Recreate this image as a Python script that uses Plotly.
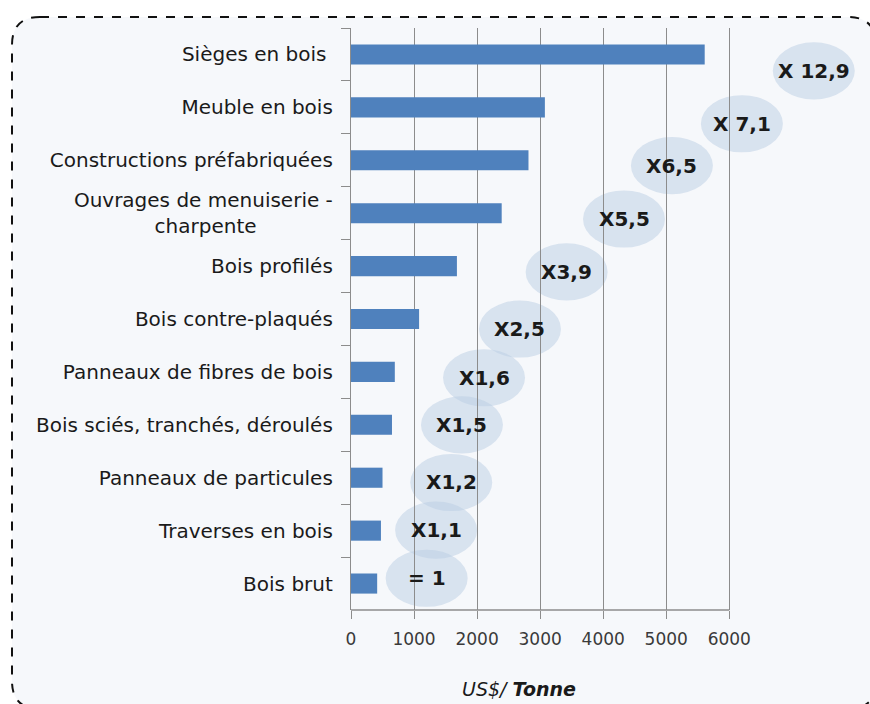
import plotly.graph_objects as go

# valeur moyenne des produits bois (US$/tonne)
produits = [
    "Sièges en bois\u00a0",
    "Meuble en bois",
    "Constructions préfabriquées",
    "Ouvrages de menuiserie -<br>charpente" + "\u00a0" * 12,
    "Bois profilés",
    "Bois contre-plaqués",
    "Panneaux de fibres de bois",
    "Bois sciés, tranchés, déroulés",
    "Panneaux de particules",
    "Traverses en bois",
    "Bois brut",
]
prix = [5610, 3075, 2815, 2390, 1680, 1080, 695, 650, 500, 475, 415]

# multiplicateurs par rapport au bois brut
multiplicateurs = ["X 12,9", "X 7,1", "X6,5", "X5,5", "X3,9", "X2,5",
                   "X1,6", "X1,5", "X1,2", "X1,1", "= 1"]
bulle_x = [7340, 6200, 5090, 4330, 3420, 2680, 2110, 1760, 1590, 1350, 1200]
bulle_y = [0.31, 1.31, 2.10, 3.11, 4.11, 5.19, 6.11, 7.00, 8.09, 8.99, 9.90]

W, H = 870, 704
L, R, T, B = 351, 2, 28, 94
pw, ph = W - L - R, H - T - B


def px(x):
    return (x - L) / pw


def py(y):
    return (H - B - y) / ph


def cadre(x0, y0, x1, y1, r):
    pts = [
        f"M {px(x0 + r)},{py(y0)}",
        f"L {px(x1 - r)},{py(y0)}",
        f"Q {px(x1)},{py(y0)} {px(x1)},{py(y0 + r)}",
        f"L {px(x1)},{py(y1 - r)}",
        f"Q {px(x1)},{py(y1)} {px(x1 - r)},{py(y1)}",
        f"L {px(x0 + r)},{py(y1)}",
        f"Q {px(x0)},{py(y1)} {px(x0)},{py(y1 - r)}",
        f"L {px(x0)},{py(y0 + r)}",
        f"Q {px(x0)},{py(y0)} {px(x0 + r)},{py(y0)}",
        "Z",
    ]
    return " ".join(pts)


fig = go.Figure()
fig.add_trace(go.Bar(
    x=prix, y=produits, orientation="h",
    marker=dict(color="#4F81BD", line_width=0),
    width=0.38, showlegend=False, hoverinfo="skip",
))

shapes = [dict(
    type="path", xref="paper", yref="paper", layer="below",
    path=cadre(12, 17, 876, 709, 28),
    fillcolor="#F6F8FB", line=dict(color="#111111", width=2, dash="dash"),
)]
for bx, by in zip(bulle_x, bulle_y):
    shapes.append(dict(
        type="circle", xref="x", yref="y", layer="below",
        x0=bx - 650, x1=bx + 650, y0=by - 0.54, y1=by + 0.54,
        fillcolor="rgba(185,205,228,0.5)", line_width=0,
    ))
# ligne de base de l'axe x (0 a 6000)
shapes.append(dict(type="line", xref="x", yref="paper", x0=0, x1=6000,
                   y0=0, y1=0, line=dict(color="#8C8C8C", width=1.3)))

annotations = [
    dict(x=bx, y=by, xref="x", yref="y", text=f"<b>{t}</b>", showarrow=False,
         font=dict(family="DejaVu Sans", size=20, color="#1A1A1A"))
    for bx, by, t in zip(bulle_x, bulle_y, multiplicateurs)
]
annotations.append(dict(
    x=px(519), y=py(689), xref="paper", yref="paper", showarrow=False,
    xanchor="center", yanchor="middle",
    text="<i>US$/ <b>Tonne</b></i>",
    font=dict(family="DejaVu Sans", size=19, color="#1A1A1A"),
))

fig.update_layout(
    width=W, height=H,
    margin=dict(l=L, r=R, t=T, b=B),
    paper_bgcolor="white", plot_bgcolor="rgba(0,0,0,0)",
    bargap=0.62,
    shapes=shapes, annotations=annotations,
    xaxis=dict(
        range=[0, 8200], tickvals=[0, 1000, 2000, 3000, 4000, 5000, 6000],
        showgrid=True, gridcolor="#8C8C8C", gridwidth=1,
        zeroline=False, showline=False,
        ticks="outside", ticklen=8, tickcolor="#8C8C8C",
        ticklabelstandoff=6,
        tickfont=dict(family="DejaVu Sans", size=17, color="#3A3A3A"),
    ),
    yaxis=dict(
        autorange="reversed", type="category",
        showline=True, linecolor="#8C8C8C", linewidth=1.3,
        ticks="outside", ticklen=9, tickcolor="#8C8C8C", tickson="boundaries",
        ticklabelstandoff=13, showgrid=False,
        tickfont=dict(family="DejaVu Sans", size=20, color="#1A1A1A"),
    ),
)

fig.write_html("out.html", config={"displayModeBar": False},
               post_script="document.body.style.margin='0px';")
